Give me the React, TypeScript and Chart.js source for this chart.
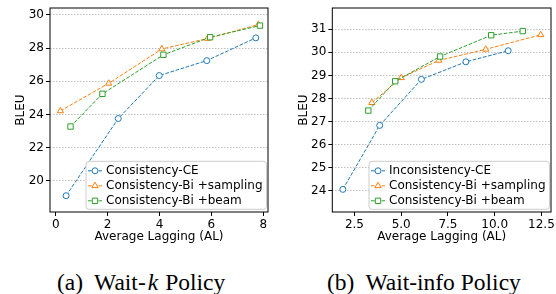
import React, { useEffect, useRef } from "react";
import { Chart, registerables } from "chart.js";
Chart.register(...registerables);

// ---------- data ----------
const namesA = ["Consistency-CE", "Consistency-Bi +sampling", "Consistency-Bi +beam"];
const namesB = ["Inconsistency-CE", "Consistency-Bi +sampling", "Consistency-Bi +beam"];

const waitkCE_x = [0.4, 2.41, 3.99, 5.82, 7.71];
const waitkCE_y = [19.11, 23.76, 26.35, 27.25, 28.62];
const waitkSamp_x = [0.18, 2.04, 4.09, 5.85, 7.81];
const waitkSamp_y = [24.22, 25.88, 27.95, 28.58, 29.42];
const waitkBeam_x = [0.57, 1.8, 4.15, 5.95, 7.87];
const waitkBeam_y = [23.28, 25.25, 27.6, 28.66, 29.36];

const infoCE_x = [1.88, 3.85, 6.08, 8.46, 10.72];
const infoCE_y = [24.07, 26.84, 28.83, 29.59, 30.07];
const infoSamp_x = [3.43, 5.0, 7.01, 9.52, 12.46];
const infoSamp_y = [27.82, 28.9, 29.65, 30.13, 30.76];
const infoBeam_x = [3.24, 4.68, 7.08, 9.81, 11.5];
const infoBeam_y = [27.48, 28.75, 29.82, 30.74, 30.92];

const xTitle = "Average Lagging (AL)";
const yTitle = "BLEU";
const captionA = ["(a)", "Wait-", "k", "Policy"];
const captionB = ["(b)", "Wait-info Policy"];

// ---------- styles ----------
const COLORS = ["#1f77b4", "#ff7f0e", "#2ca02c"];
const MARKERS = ["circle", "triangle", "rect"];
const RADII = [3, 3.6, 3.8];
const FONT = { family: "'DejaVu Sans'", size: 12 };

function drawMarker(ctx: CanvasRenderingContext2D, style: string, x: number, y: number, r: number) {
  ctx.beginPath();
  if (style === "circle") {
    ctx.arc(x, y, r, 0, Math.PI * 2);
  } else if (style === "triangle") {
    for (let k = 0; k < 3; k++) {
      const a = -Math.PI / 2 + (k * 2 * Math.PI) / 3;
      const px = x + r * Math.cos(a);
      const py = y + r * Math.sin(a);
      if (k === 0) ctx.moveTo(px, py);
      else ctx.lineTo(px, py);
    }
    ctx.closePath();
  } else {
    const s = r * Math.SQRT1_2;
    ctx.rect(x - s, y - s, 2 * s, 2 * s);
  }
  ctx.fillStyle = "#fff";
  ctx.fill();
  ctx.stroke();
}

const framePlugin = {
  id: "frameLegend",
  afterDatasetsDraw(chart: any) {
    const ctx: CanvasRenderingContext2D = chart.ctx;
    const a = chart.chartArea;
    ctx.save();
    ctx.strokeStyle = "#000";
    ctx.lineWidth = 1;
    ctx.setLineDash([]);
    ctx.strokeRect(a.left, a.top, a.right - a.left, a.bottom - a.top);

    // legend
    ctx.font = "12px 'DejaVu Sans'";
    const ds = chart.data.datasets;
    let maxW = 0;
    ds.forEach((d: any) => {
      maxW = Math.max(maxW, ctx.measureText(d.label).width);
    });
    const w = 20 + maxW + 4;
    const h = 48;
    const right = a.right - 1.5;
    const bottom = a.bottom - 2.7;
    const left = right - w;
    const top = bottom - h;
    const rr = 3;
    ctx.beginPath();
    ctx.moveTo(left + rr, top);
    ctx.arcTo(right, top, right, bottom, rr);
    ctx.arcTo(right, bottom, left, bottom, rr);
    ctx.arcTo(left, bottom, left, top, rr);
    ctx.arcTo(left, top, right, top, rr);
    ctx.closePath();
    ctx.fillStyle = "rgba(255,255,255,0.85)";
    ctx.fill();
    ctx.strokeStyle = "#cccccc";
    ctx.stroke();

    ds.forEach((d: any, i: number) => {
      const cy = top + 9.5 + i * 15;
      ctx.strokeStyle = d.borderColor;
      ctx.lineWidth = 1;
      ctx.setLineDash([3.7, 1.6]);
      ctx.beginPath();
      ctx.moveTo(left + 2, cy);
      ctx.lineTo(left + 16, cy);
      ctx.stroke();
      ctx.setLineDash([]);
      drawMarker(ctx, d.pointStyle, left + 9, cy, d.pointRadius);
      ctx.fillStyle = "#000";
      ctx.textBaseline = "middle";
      ctx.textAlign = "left";
      ctx.fillText(d.label, left + 20, cy + 0.5);
    });
    ctx.restore();
  },
};

type Panel = {
  names: string[];
  xs: number[][];
  ys: number[][];
  xMin: number; xMax: number; xStep: number; xDecimals: number;
  yMin: number; yMax: number; yStep: number;
  yAxisWidth: number; padRight: number; yTitlePad: number;
};

function makeConfig(p: Panel): any {
  return {
    type: "line",
    data: {
      datasets: p.names.map((n, i) => ({
        label: n,
        data: p.xs[i].map((x, j) => ({ x, y: p.ys[i][j] })),
        borderColor: COLORS[i],
        backgroundColor: "#fff",
        borderWidth: 1,
        borderDash: [3.7, 1.6],
        pointStyle: MARKERS[i],
        pointRadius: RADII[i],
        pointBorderWidth: 1,
        pointBackgroundColor: "#fff",
        pointBorderColor: COLORS[i],
        tension: 0,
        fill: false,
        order: 3 - i,
        clip: false,
      })),
    },
    options: {
      responsive: false,
      animation: false,
      devicePixelRatio: 1,
      layout: { padding: { left: 0, right: p.padRight, top: 8, bottom: 0 } },
      plugins: { legend: { display: false }, tooltip: { enabled: false } },
      scales: {
        x: {
          type: "linear",
          min: p.xMin,
          max: p.xMax,
          afterFit: (s: any) => {
            s.height = 38;
            s.paddingLeft = 0;
            s.paddingRight = 0;
          },
          ticks: {
            stepSize: p.xStep,
            includeBounds: false,
            autoSkip: false,
            maxRotation: 0,
            color: "#000",
            font: FONT,
            padding: 2,
            callback: (v: number) => v.toFixed(p.xDecimals),
          },
          grid: { drawOnChartArea: false, drawTicks: true, tickLength: 4, tickColor: "#000", tickWidth: 1 },
          border: { display: false },
          title: { display: true, text: xTitle, color: "#000", font: FONT, padding: { top: 0, bottom: 5.5 } },
        },
        y: {
          type: "linear",
          min: p.yMin,
          max: p.yMax,
          afterFit: (s: any) => {
            s.width = p.yAxisWidth;
            s.paddingTop = 0;
            s.paddingBottom = 0;
          },
          ticks: {
            stepSize: p.yStep,
            includeBounds: false,
            autoSkip: false,
            color: "#000",
            font: FONT,
            padding: 2,
            callback: (v: number) => String(Math.round(v)),
          },
          grid: {
            drawOnChartArea: true,
            drawTicks: true,
            tickLength: 4,
            tickColor: "#000",
            tickWidth: 1,
            color: "#b0b0b0",
            lineWidth: 0.8,
            tickBorderDash: [],
          },
          border: { display: false, dash: [1.5, 1.5] },
          title: { display: true, text: yTitle, color: "#000", font: FONT, padding: { top: p.yTitlePad, bottom: 0 } },
        },
      },
    },
    plugins: [framePlugin],
  };
}

const panelA: Panel = {
  names: namesA,
  xs: [waitkCE_x, waitkSamp_x, waitkBeam_x],
  ys: [waitkCE_y, waitkSamp_y, waitkBeam_y],
  xMin: -0.22, xMax: 8.18, xStep: 2, xDecimals: 0,
  yMin: 18.13, yMax: 30.42, yStep: 2,
  yAxisWidth: 50, padRight: 10, yTitlePad: 13.3,
};

const panelB: Panel = {
  names: namesB,
  xs: [infoCE_x, infoSamp_x, infoBeam_x],
  ys: [infoCE_y, infoSamp_y, infoBeam_y],
  xMin: 1.315, xMax: 13.01, xStep: 2.5, xDecimals: 1,
  yMin: 23.09, yMax: 31.92, yStep: 1,
  yAxisWidth: 54.3, padRight: 2.7, yTitlePad: 18.5,
};

function ChartPanel({ panel, left }: { panel: Panel; left: number }) {
  const ref = useRef<HTMLCanvasElement>(null);
  useEffect(() => {
    if (!ref.current) return;
    const c = new Chart(ref.current, makeConfig(panel));
    return () => c.destroy();
  }, [panel]);
  return (
    <canvas
      ref={ref}
      width={278}
      height={250}
      style={{ position: "absolute", left, top: 0, width: 278, height: 250 }}
    />
  );
}

const capStyle: React.CSSProperties = {
  position: "absolute",
  top: 269,
  fontFamily: "'Liberation Serif', 'Times New Roman', serif",
  fontSize: 23.5,
  lineHeight: "26px",
  color: "#000",
  whiteSpace: "pre",
};

export default function App() {
  return (
    <div
      style={{
        position: "absolute",
        left: 0,
        top: 0,
        width: 556,
        height: 294,
        overflow: "hidden",
        background: "#fff",
      }}
    >
      <ChartPanel panel={panelA} left={0} />
      <ChartPanel panel={panelB} left={278} />
      <div style={{ ...capStyle, left: 57 }}>
        {captionA[0]}
        <span style={{ display: "inline-block", width: 11 }} />
        {captionA[1]}
        <i style={{ marginLeft: 2, marginRight: 2 }}>{captionA[2]}</i>
        <span style={{ display: "inline-block", width: 5 }} />
        {captionA[3]}
      </div>
      <div style={{ ...capStyle, left: 327 }}>
        {captionB[0]}
        <span style={{ display: "inline-block", width: 11 }} />
        {captionB[1]}
      </div>
    </div>
  );
}
